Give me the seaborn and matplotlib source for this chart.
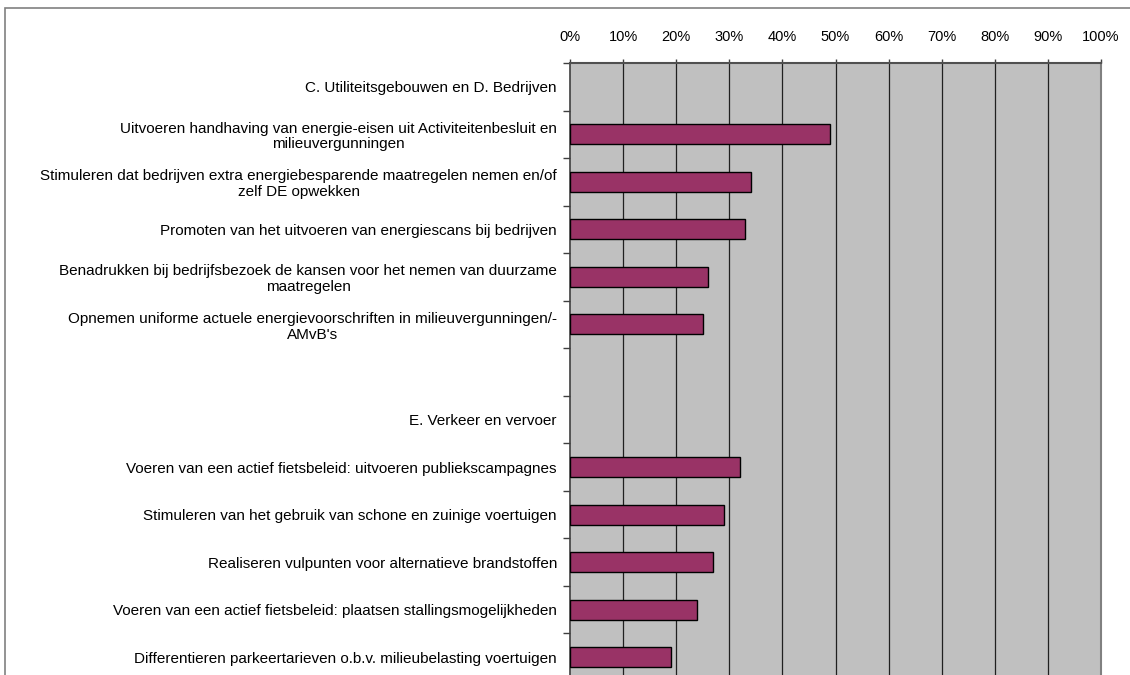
import matplotlib
matplotlib.use("Agg")
import matplotlib.pyplot as plt
import seaborn as sns
import numpy as np
import pandas as pd
from matplotlib.patches import Rectangle

categories = [
    "C. Utiliteitsgebouwen en D. Bedrijven",
    "Uitvoeren handhaving van energie-eisen uit Activiteitenbesluit en\nmilieuvergunningen",
    "Stimuleren dat bedrijven extra energiebesparende maatregelen nemen en/of\nzelf DE opwekken",
    "Promoten van het uitvoeren van energiescans bij bedrijven",
    "Benadrukken bij bedrijfsbezoek de kansen voor het nemen van duurzame\nmaatregelen",
    "Opnemen uniforme actuele energievoorschriften in milieuvergunningen/-\nAMvB's",
    " ",
    "E. Verkeer en vervoer",
    "Voeren van een actief fietsbeleid: uitvoeren publiekscampagnes",
    "Stimuleren van het gebruik van schone en zuinige voertuigen",
    "Realiseren vulpunten voor alternatieve brandstoffen",
    "Voeren van een actief fietsbeleid: plaatsen stallingsmogelijkheden",
    "Differentieren parkeertarieven o.b.v. milieubelasting voertuigen",
]
values = [np.nan, 49, 34, 33, 26, 25, np.nan, np.nan, 32, 29, 27, 24, 19]
x_ticks = [0, 10, 20, 30, 40, 50, 60, 70, 80, 90, 100]
x_ticklabels = [f"{t}%" for t in x_ticks]

sns.set_theme(style="white")
plt.rcParams['font.family'] = ['Liberation Sans', 'DejaVu Sans']

W, H = 1130, 675
fig = plt.figure(figsize=(W / 100, H / 100), dpi=100)
left, right, top, bottom = 570, 1101, 63, 681
ax = fig.add_axes([left / W, 1 - bottom / H, (right - left) / W, (bottom - top) / H])

df = pd.DataFrame({"cat": categories, "val": values})
sns.barplot(data=df, y="cat", x="val", order=categories, orient="h",
            color="#993366", saturation=1, edgecolor="black", linewidth=1.0,
            width=0.42, ax=ax, zorder=3)

ax.set_facecolor("#C0C0C0")
ax.set_xlim(0, 100)
n = len(categories)
ax.set_ylim(n - 0.5, -0.5)

ax.xaxis.tick_top()
ax.set_xticks(x_ticks)
ax.set_xticklabels(x_ticklabels, fontsize=10.5, color="black")
ax.tick_params(axis="x", which="major", direction="out", length=3, width=1,
               color="#404040", pad=11, top=True, bottom=False)
for t in x_ticks[1:-1]:
    ax.axvline(t, color="#202020", lw=0.9, zorder=1)

ax.set_yticks(np.arange(-0.5, n, 1.0))
ax.set_yticklabels([])
ax.set_yticks(np.arange(n), minor=True)
ax.set_yticklabels(categories, minor=True, fontsize=11, color="black",
                   multialignment="center", linespacing=1.15)
ax.tick_params(axis="y", which="major", direction="out", length=5, width=1,
               color="#404040", left=True)
ax.tick_params(axis="y", which="minor", length=0, pad=9.4)

ax.set_xlabel("")
ax.set_ylabel("")
ax.spines["bottom"].set_visible(False)
ax.spines["left"].set_color("#404040")
ax.spines["left"].set_linewidth(1.2)
ax.spines["top"].set_color("#505050")
ax.spines["top"].set_linewidth(1.5)
ax.spines["right"].set_color("#808080")
ax.spines["right"].set_linewidth(1.5)

frame = Rectangle((5 / W, -0.05), 1.2, 1 - 8 / H + 0.05, transform=fig.transFigure,
                  fill=False, edgecolor="#808080", linewidth=1.2)
fig.patches.append(frame)

fig.savefig("out.png", dpi=100)
